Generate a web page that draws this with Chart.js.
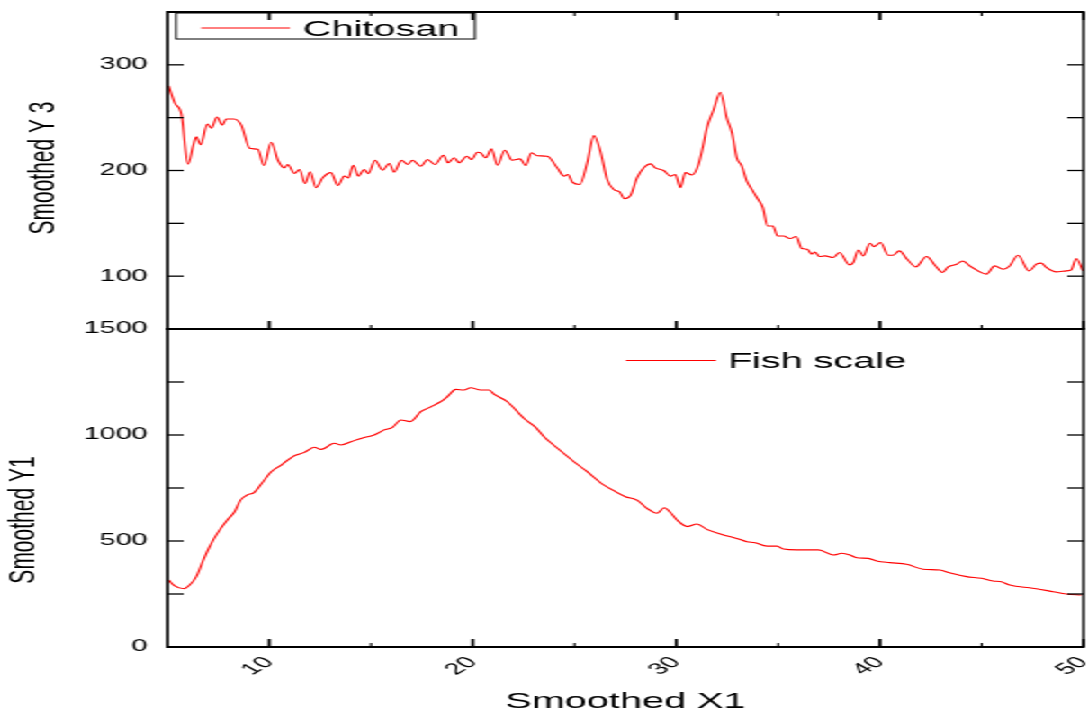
<!DOCTYPE html>
<html><head><meta charset="utf-8">
<script src="https://cdn.jsdelivr.net/npm/chart.js@4/dist/chart.umd.min.js"></script>
<style>
html,body{margin:0;padding:0;background:#fff;overflow:hidden;width:1088px;height:713px}
#wrap{position:absolute;left:0;top:0;width:605px;height:713px;transform:scaleX(1.8);transform-origin:0 0}
#wrap canvas{position:absolute;left:0;top:0}
</style></head><body>
<div id="wrap"><canvas id="cTop" width="605" height="713"></canvas><canvas id="cBot" width="605" height="713"></canvas></div>
<script>
// ---- data ----
const xMin = 5, xMax = 50;
const xTickValues = [10, 20, 30, 40, 50];
const xMinorValues = [15, 25, 35, 45];

const chitosanLabel = 'Chitosan';
const chitosanX = [5.06,5.36,5.69,6.01,6.26,6.42,6.63,6.96,7.16,7.43,7.70,7.89,8.27,8.63,9.04,9.44,9.74,10.10,10.43,10.75,10.91,11.24,11.49,11.76,12.01,12.30,12.63,13.04,13.37,13.69,13.89,14.13,14.38,14.67,14.87,15.20,15.57,15.90,16.14,16.50,16.80,17.04,17.45,17.78,18.14,18.56,18.79,19.09,19.33,19.71,19.94,20.23,20.39,20.64,20.92,21.21,21.57,21.94,22.32,22.60,22.88,23.17,23.66,24.15,24.48,24.67,24.89,25.26,25.62,25.95,26.27,26.60,26.93,27.22,27.45,27.75,28.07,28.40,28.73,28.97,29.38,29.71,29.95,30.20,30.44,30.77,31.09,31.31,31.50,31.83,32.16,32.48,32.73,32.97,33.22,33.46,33.71,33.96,34.25,34.48,34.74,34.97,35.26,35.59,35.88,36.16,36.43,36.65,36.81,37.03,37.30,37.71,38.01,38.50,38.69,38.94,39.18,39.51,39.71,40.03,40.41,40.65,40.95,41.34,41.76,42.29,42.70,43.07,43.35,43.76,44.07,44.41,44.82,45.23,45.64,46.05,46.37,46.78,47.32,47.68,47.93,48.17,48.66,49.15,49.40,49.64,49.97];
const chitosanY = [280,264,253,206,223,232,224.5,244,240,250.7,243,248.8,248.8,243,221,220,204.7,226.7,209.7,202.5,205.7,197.2,201,187.7,198.8,183.7,193.1,198,185.8,194.7,193,205,194.7,201,197,209.7,200.3,206.6,198.4,209.7,205.7,209.7,204,210.4,205.7,214.4,207.3,212,207.3,213.5,210.4,217.3,216.7,212,220.5,205,219.2,209.7,211,204.7,216.7,214,213.5,202.5,194.7,196.2,189,186.8,207.3,233,218.2,191.5,182,179.6,173.3,176.4,193.1,202.5,206.3,202.5,200,194.7,196.2,183.7,198,195.8,205.7,223,240.3,257.5,273.9,249.7,235.6,212,204,189.9,182,174.2,164.8,147.5,147.5,138,138,135.6,137.5,126.2,125.5,120.8,122.9,118.6,119.2,117.6,122.4,110.7,112.9,124.8,119.2,131.1,128,131.8,119.8,119.8,123.9,116,108.8,118.6,110.4,103.5,108.8,111.3,114.4,109.7,105,101.9,109.7,106.6,109.7,119.8,105,111.3,112.3,108.3,104.1,105,106,116.7,105];

const fishLabel = 'Fish scale';
const fishX = [5.06,5.36,5.82,6.09,6.42,6.75,7.07,7.45,7.94,8.30,8.59,8.92,9.25,9.61,10.10,10.59,11.16,11.73,12.22,12.55,13.20,13.53,14.02,14.51,15.16,15.65,16.06,16.47,16.93,17.45,17.94,18.43,18.76,19.17,19.57,19.90,20.39,20.80,21.04,21.70,22.52,23.09,23.50,24.31,24.97,25.62,26.36,27.01,27.50,28.07,28.56,29.05,29.41,29.71,30.03,30.55,31.01,31.50,32.32,32.97,33.46,33.87,34.45,34.94,35.26,35.92,36.98,37.71,38.12,38.53,38.86,39.43,39.84,40.49,41.31,42.12,42.94,43.43,44.25,44.99,45.55,45.96,46.37,47.51,48.50,49.15,49.89];
const fishY = [316,288,275,292,332,407,473,536,599,638,693,717,728,769,827,858,898,918,942,932,961,953,968,984,1000,1024,1036,1071,1063,1110,1133,1157,1181,1215,1212,1223,1212,1212,1193,1157,1078,1036,992,926,874,827,769,733,709,693,654,631,657,634,599,568,580,555,528,512,497,492,476,476,462,458,458,434,442,434,421,418,406,398,390,367,363,350,332,324,311,308,292,277,261,250,245];

const topRange = [50, 350];
const topTickValues = [100, 200, 300];
const topTickMarks = [100, 150, 200, 250, 300];
const botRange = [0, 1500];
const botTickValues = [0, 500, 1000, 1500];
const botTickMarks = [250, 500, 750, 1000, 1250];

const xTitle = 'Smoothed X1';
const topYTitle = 'Smoothed Y 3';
const botYTitle = 'Smoothed Y1';

// ---- helpers ----
const FONT = '"Liberation Sans", Arial, Helvetica, sans-serif';
const RED = '#ff0000';
const pts = (xs, ys) => xs.map((x, i) => ({x: x, y: ys[i]}));
const plain = v => String(v);

const decor = {
  id: 'decor',
  afterDatasetsDraw(chart, args, o) {
    const ctx = chart.ctx, a = chart.chartArea;
    const xs = chart.scales.x, ys = chart.scales.y;
    const line = (x1, y1, x2, y2) => { ctx.beginPath(); ctx.moveTo(x1, y1); ctx.lineTo(x2, y2); ctx.stroke(); };
    ctx.save();
    ctx.strokeStyle = '#000';
    ctx.lineCap = 'butt';
    // y tick marks (inward, both sides)
    ctx.lineWidth = 1.3;
    o.yMarks.forEach(v => {
      const py = ys.getPixelForValue(v);
      line(a.left, py, a.left + 9, py);
      line(a.right - 9, py, a.right, py);
    });
    // x tick marks (inward)
    const xt = (vals, len, lw) => {
      ctx.lineWidth = lw;
      vals.forEach(v => {
        const px = xs.getPixelForValue(v);
        if (o.topTicks) line(px, a.top, px, a.top + len);
        if (o.bottomTicks) line(px, a.bottom, px, a.bottom - len);
      });
    };
    xt(xTickValues, 8, 1.7);
    xt(xMinorValues, 4, 1.1);
    // frame
    ctx.lineWidth = 2;
    line(a.left, a.top, a.right, a.top);
    line(a.left, a.bottom, a.right, a.bottom);
    ctx.lineWidth = 1.7;
    line(a.left, a.top - 1, a.left, a.bottom + 1);
    ctx.lineWidth = 1.4;
    line(a.right, a.top - 1, a.right, a.bottom + 1);
    // legend
    const lg = o.legend;
    if (lg.box) {
      ctx.lineWidth = 1;
      ctx.strokeRect(lg.box[0], lg.box[1], lg.box[2] - lg.box[0], lg.box[3] - lg.box[1]);
    }
    ctx.strokeStyle = RED;
    ctx.lineWidth = 1;
    line(lg.line[0], lg.line[2], lg.line[1], lg.line[2]);
    ctx.fillStyle = '#000';
    ctx.font = '22px ' + FONT;
    ctx.textAlign = 'left';
    ctx.textBaseline = 'alphabetic';
    ctx.fillText(chart.data.datasets[0].label, lg.text[0], lg.text[1]);
    // y title
    ctx.save();
    ctx.translate(o.yTitle.x, o.yTitle.y);
    ctx.rotate(-Math.PI / 2);
    ctx.font = '21px ' + FONT;
    ctx.textAlign = 'center';
    ctx.textBaseline = 'middle';
    ctx.fillText(o.yTitle.text, 0, 0);
    ctx.restore();
    ctx.restore();
  }
};

const yTickFont = {family: FONT, size: 16};

new Chart(document.getElementById('cTop'), {
  type: 'line',
  data: {datasets: [{label: chitosanLabel, data: pts(chitosanX, chitosanY), borderColor: RED, borderWidth: 1.1, pointRadius: 0, fill: false, cubicInterpolationMode: 'monotone'}]},
  options: {
    responsive: false, animation: false, devicePixelRatio: 1,
    layout: {padding: {left: 0, top: 12, right: 3, bottom: 384}},
    plugins: {
      legend: {display: false}, tooltip: {enabled: false},
      decor: {yMarks: topTickMarks, topTicks: true, bottomTicks: true,
        legend: {box: [97.8, 13, 263.9, 39], line: [111.7, 161.1, 28], text: [168.3, 35.5]},
        yTitle: {text: topYTitle, x: 24, y: 168}}
    },
    scales: {
      x: {type: 'linear', min: xMin, max: xMax, display: false},
      y: {type: 'linear', min: topRange[0], max: topRange[1],
        afterBuildTicks: s => { s.ticks = topTickValues.map(v => ({value: v})); },
        afterFit: s => { s.width = 93; s.paddingTop = 0; s.paddingBottom = 0; },
        grid: {display: false, drawTicks: false}, border: {display: false},
        ticks: {color: '#000', font: yTickFont, padding: 11, callback: plain}}
    }
  },
  plugins: [decor]
});

new Chart(document.getElementById('cBot'), {
  type: 'line',
  data: {datasets: [{label: fishLabel, data: pts(fishX, fishY), borderColor: RED, borderWidth: 1.1, pointRadius: 0, fill: false, cubicInterpolationMode: 'monotone'}]},
  options: {
    responsive: false, animation: false, devicePixelRatio: 1,
    layout: {padding: {left: 0, top: 329, right: 3, bottom: 0}},
    plugins: {
      legend: {display: false}, tooltip: {enabled: false},
      decor: {yMarks: botTickMarks, topTicks: false, bottomTicks: true,
        legend: {box: null, line: [347.8, 397.8, 360.5], text: [404.4, 368]},
        yTitle: {text: botYTitle, x: 13, y: 520}}
    },
    scales: {
      x: {type: 'linear', min: xMin, max: xMax,
        afterBuildTicks: s => { s.ticks = xTickValues.map(v => ({value: v})); },
        afterFit: s => { s.height = 66; s.paddingLeft = 0; s.paddingRight = 0; },
        grid: {display: false, drawTicks: false}, border: {display: false},
        ticks: {color: '#000', font: {family: FONT, size: 16}, minRotation: 45, maxRotation: 45, autoSkip: false, padding: 6, callback: plain},
        title: {display: true, text: xTitle, color: '#000', font: {family: FONT, size: 22, lineHeight: 1}, padding: {top: 0, bottom: 0}}},
      y: {type: 'linear', min: botRange[0], max: botRange[1],
        afterBuildTicks: s => { s.ticks = botTickValues.map(v => ({value: v})); },
        afterFit: s => { s.width = 93; s.paddingTop = 0; s.paddingBottom = 0; },
        grid: {display: false, drawTicks: false}, border: {display: false},
        ticks: {color: '#000', font: yTickFont, padding: 11, callback: plain}}
    }
  },
  plugins: [decor]
});
</script>
</body></html>
